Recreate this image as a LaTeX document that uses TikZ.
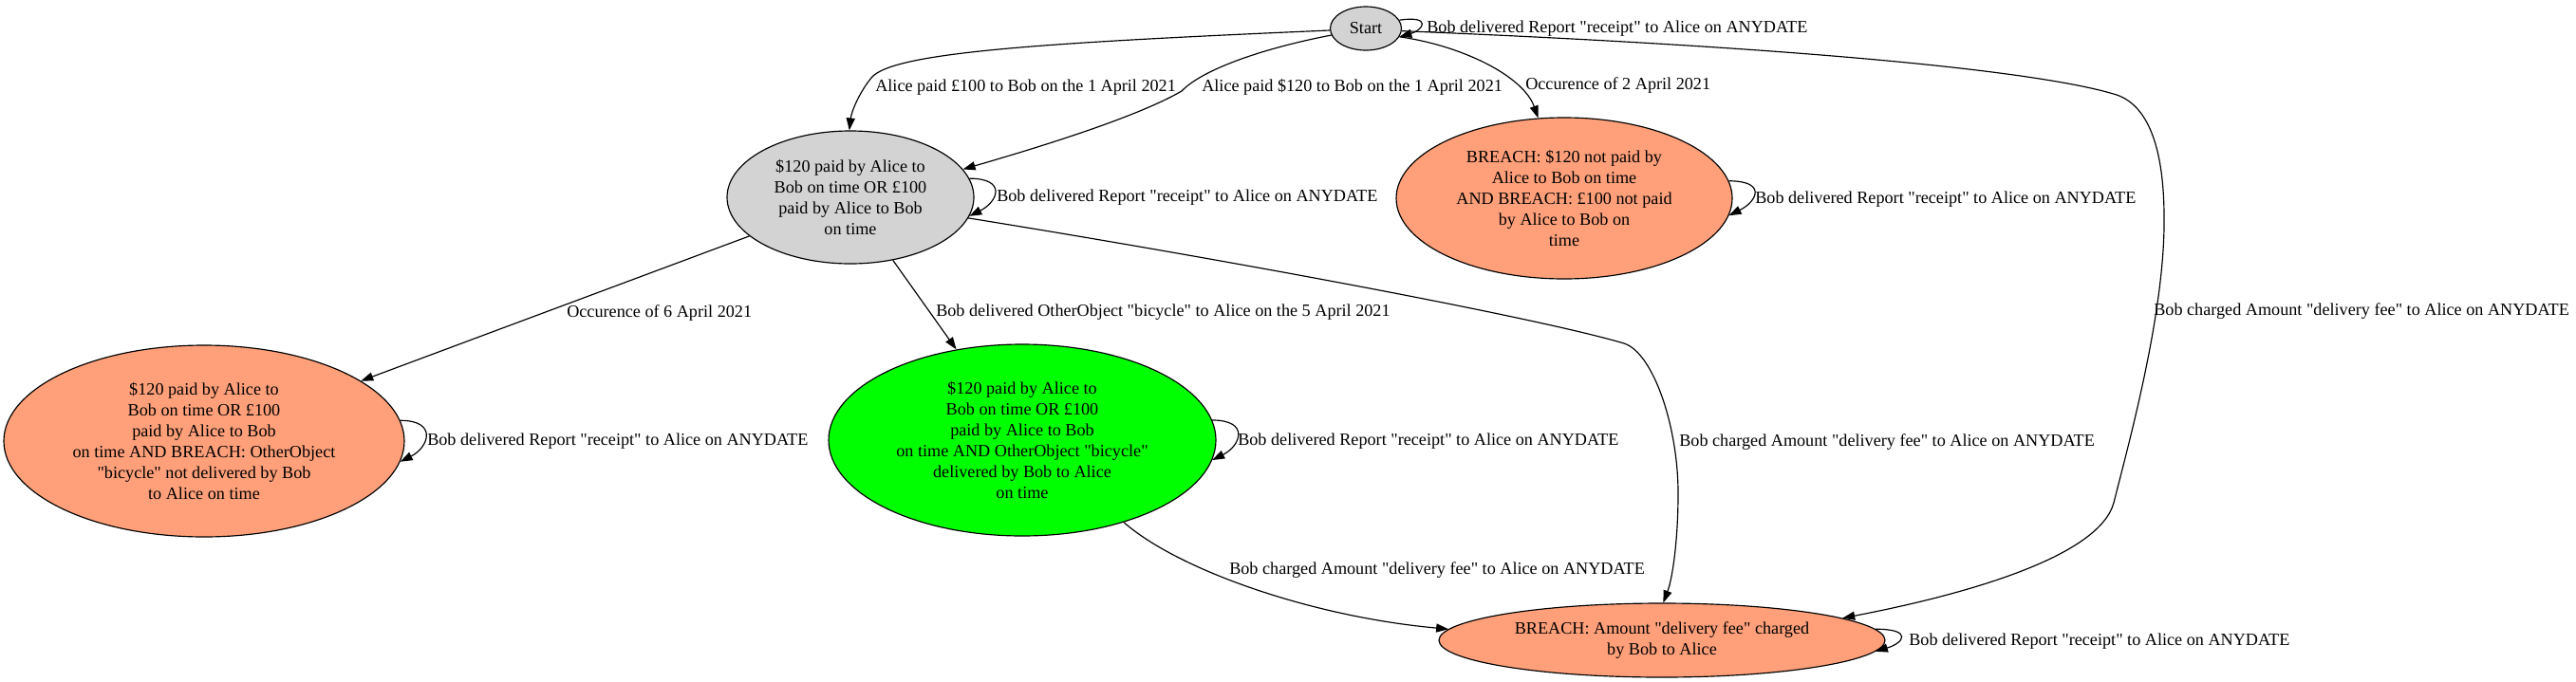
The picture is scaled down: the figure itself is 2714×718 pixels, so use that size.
\documentclass[tikz,border=0pt]{standalone}
\usepackage{fontspec}
\setmainfont{Liberation Serif}[Ligatures=TeXOff]
\usetikzlibrary{shapes.geometric,arrows.meta}
\newcommand\pxu{0.77pt}
\definecolor{gvgray}{HTML}{D3D3D3}
\definecolor{gvsalmon}{HTML}{FFA07A}
\definecolor{gvgreen}{HTML}{00FF00}
\begin{document}
\begin{tikzpicture}[x=0.77pt,y=-0.77pt,
  every node/.style={font=\fontsize{14}{16.9}\selectfont},
  state/.style={ellipse, draw, line width=0.9pt, inner sep=0pt, align=center},
  lbl/.style={inner sep=0pt, anchor=west},
  edge/.style={draw, line width=0.9pt, -{Triangle[length=10pt,width=7pt]}}]
\useasboundingbox (0,0) rectangle (2714,718);

% states
\node[state, fill=gvgray, minimum width=75*\pxu, minimum height=46*\pxu] (S) at (1439,30) {Start};
\node[state, fill=gvgray, minimum width=260*\pxu, minimum height=140*\pxu] (A) at (896,208)
  {\$120 paid by Alice to\\Bob on time OR £100\\paid by Alice to Bob\\on time};
\node[state, fill=gvsalmon, minimum width=422*\pxu, minimum height=202*\pxu] (B) at (215,465)
  {\$120 paid by Alice to\\Bob on time OR £100\\paid by Alice to Bob\\on time AND BREACH: OtherObject\\"bicycle" not delivered by Bob\\to Alice on time};
\node[state, fill=gvsalmon, minimum width=354*\pxu, minimum height=170*\pxu] (C) at (1648,209)
  {BREACH: \$120 not paid by\\Alice to Bob on time\\AND BREACH: £100 not paid\\by Alice to Bob on\\time};
\node[state, fill=gvgreen, minimum width=408*\pxu, minimum height=202*\pxu] (D) at (1077,464)
  {\$120 paid by Alice to\\Bob on time OR £100\\paid by Alice to Bob\\on time AND OtherObject "bicycle"\\delivered by Bob to Alice\\on time};
\node[state, fill=gvsalmon, minimum width=470*\pxu, minimum height=78*\pxu] (E) at (1751,675)
  {BREACH: Amount "delivery fee" charged\\by Bob to Alice};

% edges
\draw[edge] (S.183) .. controls (1100,45) and (940,55) .. (918,82) .. controls (905,98) and (897,118) .. (A.91);
\draw[edge] (S.191) .. controls (1335,50) and (1268,72) .. (1245,96) .. controls (1195,125) and (1085,158) .. (A.14);
\draw[edge] (S.346) .. controls (1540,48) and (1605,80) .. (C.108);
\draw[edge] (S.14) .. controls +(35,-5) and +(25,-7) .. (S.346);
\draw[edge] (S.356) .. controls (1900,50) and (2150,75) .. (2230,100) .. controls (2265,112) and (2280,160) .. (2280,230) .. controls (2281,330) and (2242,470) .. (2227,530) .. controls (2212,585) and (2080,625) .. (E.7);
\draw[edge] (A.9) .. controls +(40,0) and +(30,-15) .. (A.351);
\draw[edge] (A.201) -- (B.21);
\draw[edge] (A.304) -- (D.126);
\draw[edge] (A.350) .. controls (1300,275) and (1620,335) .. (1711,362) .. controls (1742,372) and (1768,450) .. (1768,520) .. controls (1768,570) and (1762,610) .. (E.88);
\draw[edge] (D.321) .. controls (1240,600) and (1380,650) .. (E.177);
\draw[edge] (B.6) .. controls +(40,0) and +(30,-15) .. (B.354);
\draw[edge] (C.6) .. controls +(40,0) and +(30,-15) .. (C.354);
\draw[edge] (D.6) .. controls +(40,0) and +(30,-15) .. (D.354);
\draw[edge] (E.3) .. controls +(40,0) and +(30,-9) .. (E.357);

% labels
\node[lbl] (l1) at (922,92) {Alice paid £100 to Bob on the 1 April 2021};
\node[lbl] (l2) at (1266,92) {Alice paid \$120 to Bob on the 1 April 2021};
\node[lbl] (l3) at (1607,90) {Occurence of 2 April 2021};
\node[lbl] (l4) at (1503,30) {Bob delivered Report "receipt" to Alice on ANYDATE};
\node[lbl] (l5) at (2269,328) {Bob charged Amount "delivery fee" to Alice on ANYDATE};
\node[lbl] (l6) at (1050,208) {Bob delivered Report "receipt" to Alice on ANYDATE};
\node[lbl] (l7) at (597,330) {Occurence of 6 April 2021};
\node[lbl] (l8) at (986,329) {Bob delivered OtherObject "bicycle" to Alice on the 5 April 2021};
\node[lbl] (l9) at (1769,466) {Bob charged Amount "delivery fee" to Alice on ANYDATE};
\node[lbl] (l10) at (1295,601) {Bob charged Amount "delivery fee" to Alice on ANYDATE};
\node[lbl] (l11) at (450,465) {Bob delivered Report "receipt" to Alice on ANYDATE};
\node[lbl] (l12) at (1304,465) {Bob delivered Report "receipt" to Alice on ANYDATE};
\node[lbl] (l13) at (1849,210) {Bob delivered Report "receipt" to Alice on ANYDATE};
\node[lbl] (l14) at (2011,676) {Bob delivered Report "receipt" to Alice on ANYDATE};
\end{tikzpicture}
\end{document}
